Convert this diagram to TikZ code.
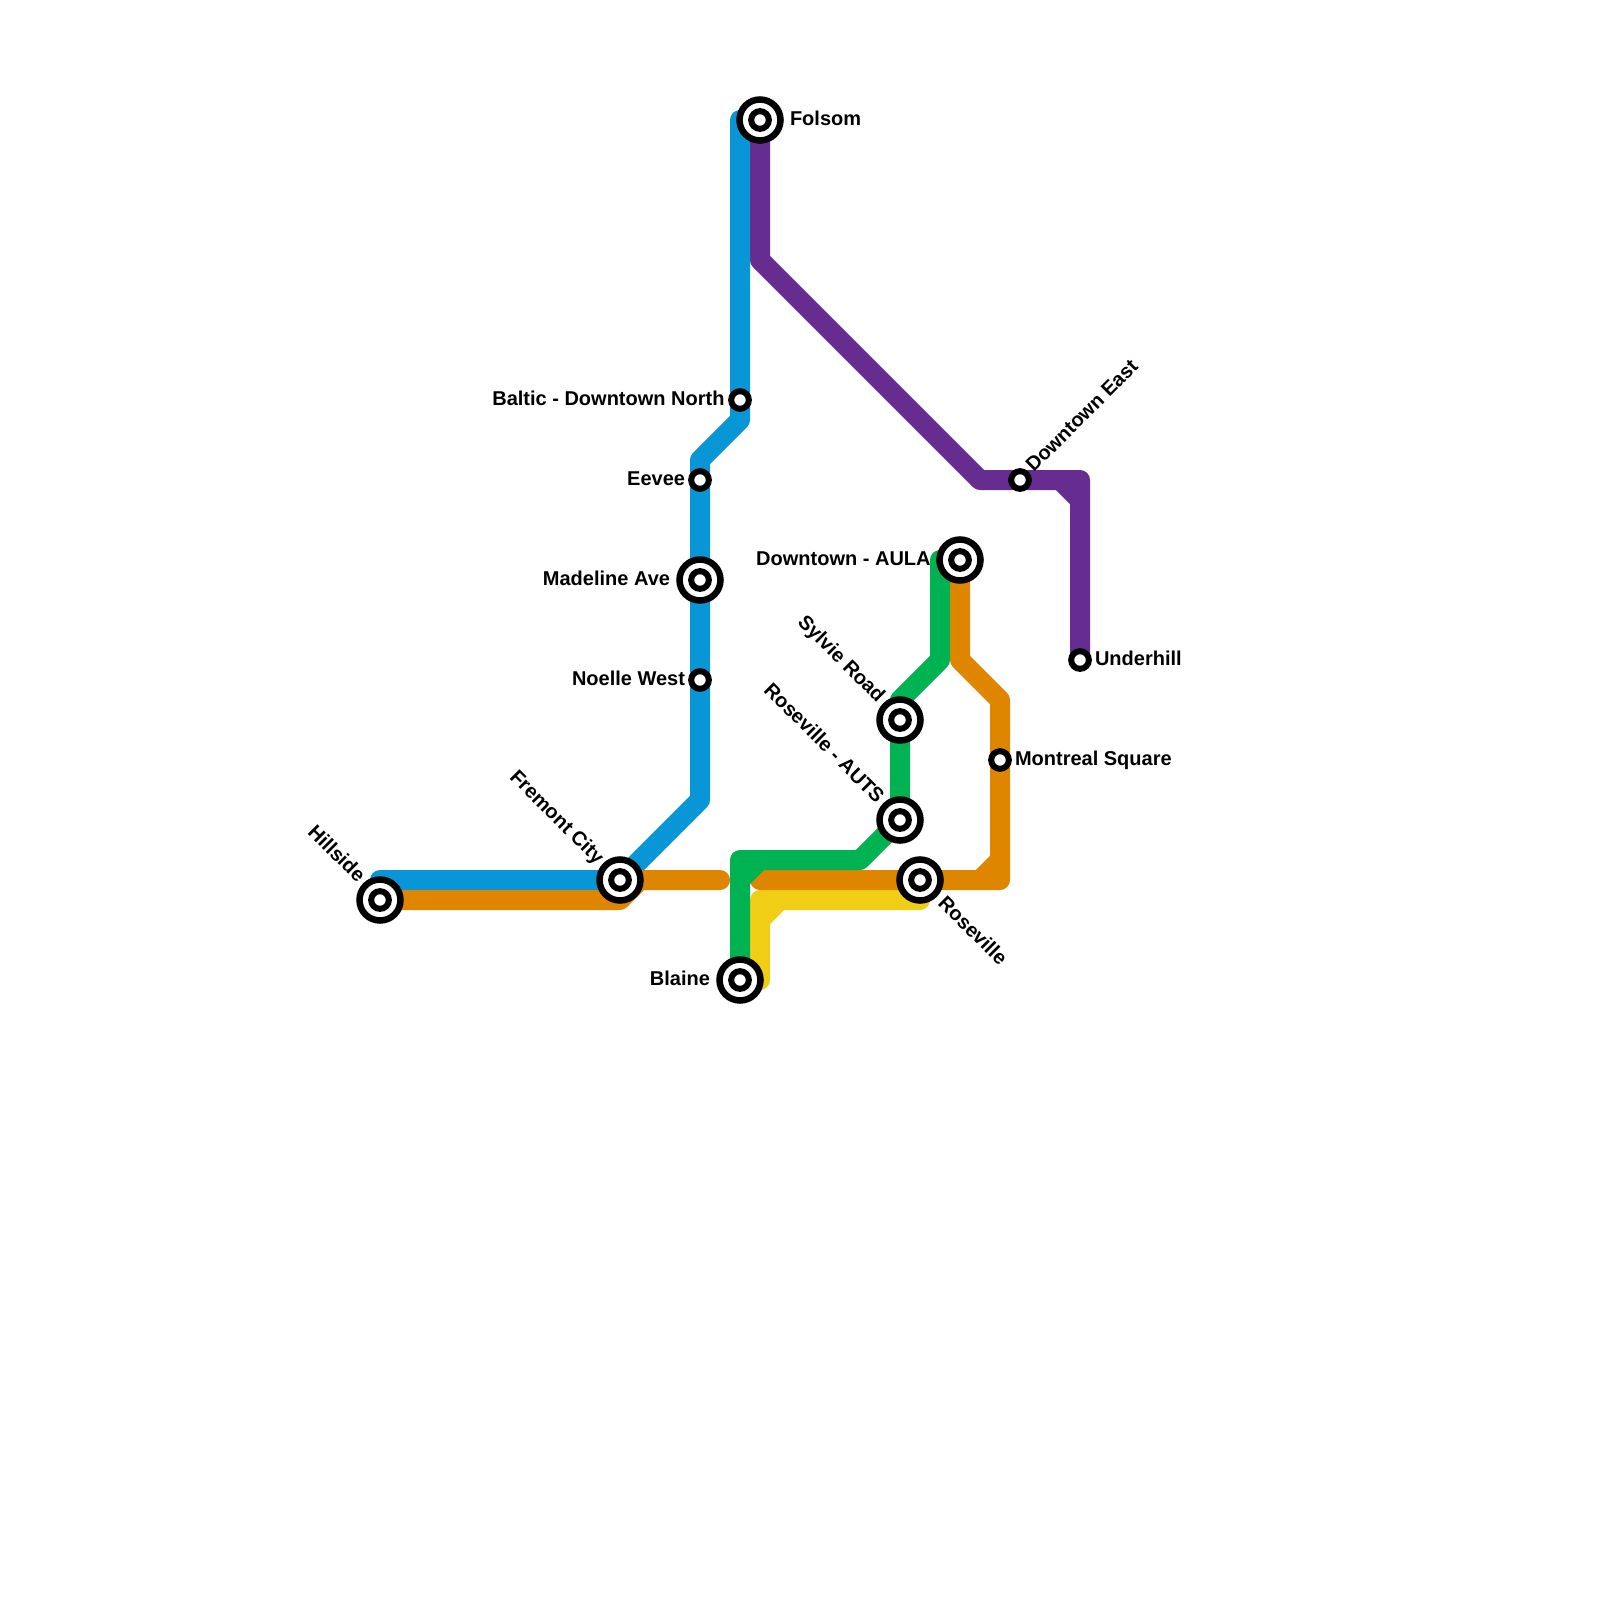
\documentclass[tikz,border=0pt]{standalone}
\usepackage{fontspec}
\setmainfont{Liberation Sans Bold}
\definecolor{lblue}{HTML}{0896D7}
\definecolor{lorange}{HTML}{DF8600}
\definecolor{lgreen}{HTML}{00B251}
\definecolor{lyellow}{HTML}{F0CE15}
\definecolor{lpurple}{HTML}{662C90}
\tikzset{
  metro/.style={line width=20pt,line cap=round,line join=round},
  bigst/.style={circle,draw=black,fill=white,line width=6.5pt,inner sep=0pt,outer sep=0pt,minimum size=41pt,
    path picture={\draw[black,line width=6pt] (path picture bounding box.center) circle (8.85pt);}},
  smallst/.style={circle,draw=black,fill=white,line width=6pt,inner sep=0pt,outer sep=0pt,minimum size=17.7pt},
  lbl/.style={inner sep=0pt,outer sep=0pt,font=\fontsize{20pt}{24pt}\selectfont,text=black,text height=15pt,text depth=4pt},
}
\begin{document}
\begin{tikzpicture}[x=1pt,y=-1pt]
\useasboundingbox (0,0) rectangle (1600,1600);
% stations
\path
 (760,120) coordinate (pFolsom)
 (740,400) coordinate (pBaltic)
 (700,480) coordinate (pEevee)
 (700,580) coordinate (pMadeline)
 (700,680) coordinate (pNoelle)
 (620,880) coordinate (pFremont)
 (380,900) coordinate (pHillside)
 (740,980) coordinate (pBlaine)
 (920,880) coordinate (pRoseville)
 (900,820) coordinate (pAuts)
 (900,720) coordinate (pSylvie)
 (960,560) coordinate (pAula)
 (1000,760) coordinate (pMontreal)
 (1020,480) coordinate (pEast)
 (1080,660) coordinate (pUnderhill);
% bends
\path
 (380,880) coordinate (bA) (740,120) coordinate (bB) (740,420) coordinate (bC)
 (700,460) coordinate (bD) (700,800) coordinate (bE)
 (640,880) coordinate (oA) (620,900) coordinate (oB) (720,880) coordinate (oC)
 (760,880) coordinate (oD) (1000,880) coordinate (oE) (980,880) coordinate (oF)
 (1000,860) coordinate (oG) (1000,700) coordinate (oH) (960,660) coordinate (oI)
 (740,860) coordinate (gA) (860,860) coordinate (gB) (900,700) coordinate (gC)
 (940,660) coordinate (gD) (940,560) coordinate (gE) (740,880) coordinate (gF) (760,860) coordinate (gG)
 (760,980) coordinate (yA) (760,900) coordinate (yB) (920,900) coordinate (yC)
 (760,920) coordinate (yD) (780,900) coordinate (yE)
 (760,260) coordinate (uA) (980,480) coordinate (uB) (1080,480) coordinate (uC)
 (1060,480) coordinate (uD) (1080,500) coordinate (uE);
% lines
\draw[metro,lyellow] (yA)--(yB)--(yC) (yD)--(yE);
\draw[metro,lpurple] (pFolsom)--(uA)--(uB)--(uC)--(pUnderhill) (uD)--(uE);
\draw[metro,lblue] (bA)--(pFremont)--(bE)--(bD)--(bC)--(bB);
\draw[metro,lorange] (pHillside)--(oB)--(oA)--(oC);
\draw[metro,lorange] (oD)--(oE)--(oH)--(oI)--(pAula) (oF)--(oG);
\draw[metro,lgreen] (pBlaine)--(gA)--(gB)--(pAuts)--(gC)--(gD)--(gE) (gF)--(gG);
% station marks
\node[bigst] (Folsom) at (pFolsom) {};
\node[smallst] (Baltic) at (pBaltic) {};
\node[smallst] (Eevee) at (pEevee) {};
\node[bigst] (Madeline) at (pMadeline) {};
\node[smallst] (Noelle) at (pNoelle) {};
\node[bigst] (Fremont) at (pFremont) {};
\node[bigst] (Hillside) at (pHillside) {};
\node[bigst] (Blaine) at (pBlaine) {};
\node[bigst] (Roseville) at (pRoseville) {};
\node[bigst] (Auts) at (pAuts) {};
\node[bigst] (Sylvie) at (pSylvie) {};
\node[bigst] (Aula) at (pAula) {};
\node[smallst] (Montreal) at (pMontreal) {};
\node[smallst] (East) at (pEast) {};
\node[smallst] (Underhill) at (pUnderhill) {};
% labels
\node[lbl,anchor=west] (tFolsom) at (790,119.5) {Folsom};
\node[lbl,anchor=east] (tBaltic) at (724.5,399.5) {Baltic - Downtown North};
\node[lbl,anchor=east] (tEevee) at (685,479.5) {Eevee};
\node[lbl,anchor=east] (tMadeline) at (670,579.5) {Madeline Ave};
\node[lbl,anchor=east] (tNoelle) at (685,679.5) {Noelle West};
\node[lbl,anchor=east,rotate=-45] (tFremont) at (600,861.5) {Fremont City};
\node[lbl,anchor=east,rotate=-45] (tHillside) at (361,879.5) {Hillside};
\node[lbl,anchor=east] (tBlaine) at (710,979.5) {Blaine};
\node[lbl,anchor=west,rotate=-45] (tRoseville) at (941,900.5) {Roseville};
\node[lbl,anchor=east,rotate=-45] (tAuts) at (880,800.5) {Roseville - AUTS};
\node[lbl,anchor=east,rotate=-45] (tSylvie) at (881,699.5) {Sylvie Road};
\node[lbl,anchor=east] (tAula) at (930.6,559.5) {Downtown - AULA};
\node[lbl,anchor=west] (tMontreal) at (1015,759.5) {Montreal Square};
\node[lbl,anchor=west,rotate=45] (tEast) at (1030,469) {Downtown East};
\node[lbl,anchor=west] (tUnderhill) at (1095,659.5) {Underhill};
\end{tikzpicture}
\end{document}
